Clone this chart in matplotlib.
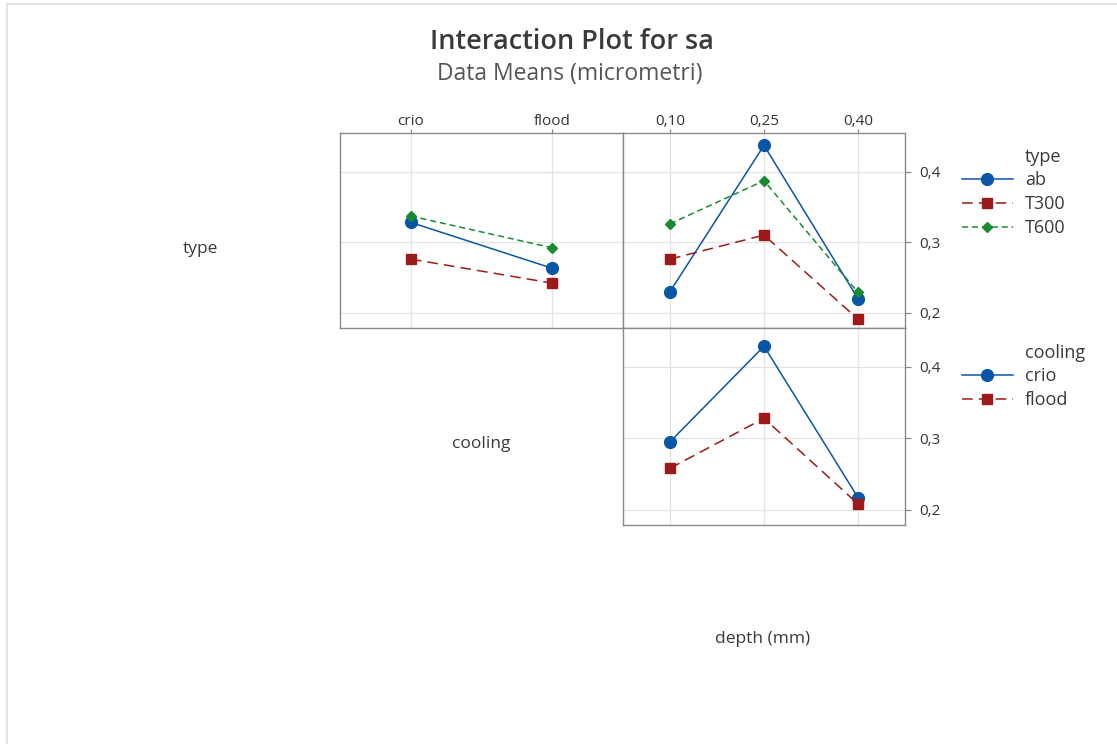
import matplotlib
matplotlib.use("Agg")
import matplotlib.pyplot as plt
from matplotlib.lines import Line2D
from matplotlib.patches import Rectangle
from matplotlib.ticker import FuncFormatter

plt.rcParams["font.family"] = ["Open Sans", "DejaVu Sans"]

# factor levels
type_levels = ["ab", "T300", "T600"]
cooling_levels = ["crio", "flood"]
depth_levels = ["0,10", "0,25", "0,40"]

# means of sa for type x cooling
type_cooling = {
    "ab": [0.328, 0.263],
    "T300": [0.276, 0.242],
    "T600": [0.337, 0.292],
}
# means of sa for type x depth
type_depth = {
    "ab": [0.230, 0.437, 0.220],
    "T300": [0.276, 0.310, 0.191],
    "T600": [0.326, 0.387, 0.229],
}
# means of sa for cooling x depth
cooling_depth = {
    "crio": [0.295, 0.429, 0.217],
    "flood": [0.258, 0.328, 0.208],
}

blue = "#0a56a6"
red = "#9c1a1a"
green = "#1a8a32"
styles = [
    dict(color=blue, marker="o", markersize=8.5, linestyle="-", linewidth=1.1),
    dict(color=red, marker="s", markersize=7.5, linestyle=(0, (7, 4)), linewidth=1.1),
    dict(color=green, marker="D", markersize=5.5, linestyle=(0, (4, 2.5)), linewidth=1.1),
]

W, H = 1117, 744
fig = plt.figure(figsize=(W / 100, H / 100), dpi=100)


def px_axes(x0, y0, x1, y1):
    return fig.add_axes([x0 / W, 1 - y1 / H, (x1 - x0) / W, (y1 - y0) / H])


ax_tc = px_axes(340, 133, 623, 328)
ax_td = px_axes(623, 133, 905, 328)
ax_cd = px_axes(623, 328, 905, 525)

comma = FuncFormatter(lambda v, p: f"{v:.1f}".replace(".", ","))
for ax in (ax_tc, ax_td, ax_cd):
    ax.set_ylim(0.1785, 0.4545)
    ax.set_yticks([0.2, 0.3, 0.4])
    ax.grid(True, color="#e3e3e3", linewidth=0.9)
    ax.set_axisbelow(True)
    for s in ax.spines.values():
        s.set_color("#8a8a8a")
        s.set_linewidth(1.0)
    ax.tick_params(colors="#8a8a8a", labelcolor="#333333", labelsize=11,
                   length=4, width=0.9, pad=4)
    ax.tick_params(axis="x", length=3, pad=0)

# top-left: type by cooling
x = range(1, len(cooling_levels) + 1)
for lvl, st in zip(type_levels, styles):
    ax_tc.plot(x, type_cooling[lvl], **st)
ax_tc.set_xlim(0.5, len(cooling_levels) + 0.5)
ax_tc.set_xticks(list(x))
ax_tc.set_xticklabels(cooling_levels)
ax_tc.xaxis.tick_top()
ax_tc.tick_params(axis="y", left=False, right=False, labelleft=False, labelright=False)

# top-right: type by depth
x = range(1, len(depth_levels) + 1)
for lvl, st in zip(type_levels, styles):
    ax_td.plot(x, type_depth[lvl], **st)
ax_td.set_xlim(0.5, len(depth_levels) + 0.5)
ax_td.set_xticks(list(x))
ax_td.set_xticklabels(depth_levels)
ax_td.xaxis.tick_top()
ax_td.yaxis.tick_right()
ax_td.yaxis.set_major_formatter(comma)

# bottom-right: cooling by depth
for lvl, st in zip(cooling_levels, styles):
    ax_cd.plot(x, cooling_depth[lvl], **st)
ax_cd.set_xlim(0.5, len(depth_levels) + 0.5)
ax_cd.set_xticks(list(x))
ax_cd.tick_params(axis="x", bottom=False, top=False, labelbottom=False)
ax_cd.yaxis.tick_right()
ax_cd.yaxis.set_major_formatter(comma)
ax_td.tick_params(axis="y", pad=6)
ax_cd.tick_params(axis="y", pad=6)

# titles
fig.text(572 / W, 1 - 42 / H, "Interaction Plot for sa", ha="center", va="center",
         fontsize=19.5, fontweight="semibold", color="#3a3a3a")
fig.text(570 / W, 1 - 74 / H, "Data Means (micrometri)", ha="center", va="center",
         fontsize=16.5, color="#555555")

# factor names on diagonal
for label, (px, py) in [("type", (200, 249)), ("cooling", (481, 444)),
                        ("depth (mm)", (763, 639))]:
    fig.text(px / W, 1 - py / H, label, ha="center", va="center",
             fontsize=12.5, fontweight="medium", color="#3a3a3a")


def add_legend(title, levels, top_px):
    handles = [Line2D([], [], **st) for _, st in zip(levels, styles)]
    fig.text(1025 / W, 1 - (top_px - 23) / H, title, ha="left", va="center",
             fontsize=13, color="#3a3a3a")
    leg = fig.legend(handles, levels, loc="upper left",
                     bbox_to_anchor=(962 / W, 1 - (top_px - 9) / H),
                     frameon=False, fontsize=13, handlelength=2.8,
                     handletextpad=0.7, labelspacing=0.33, borderpad=0,
                     borderaxespad=0)
    for t in leg.get_texts():
        t.set_color("#3a3a3a")


add_legend("type", type_levels, 180)
add_legend("cooling", cooling_levels, 376)

# faint frame around the picture
fig.patches.append(Rectangle((7 / W, -0.01), 1.2, 1 - 4 / H + 0.01,
                             transform=fig.transFigure, fill=False,
                             edgecolor="#dedede", linewidth=1.2))

fig.savefig("out.png", dpi=100)
